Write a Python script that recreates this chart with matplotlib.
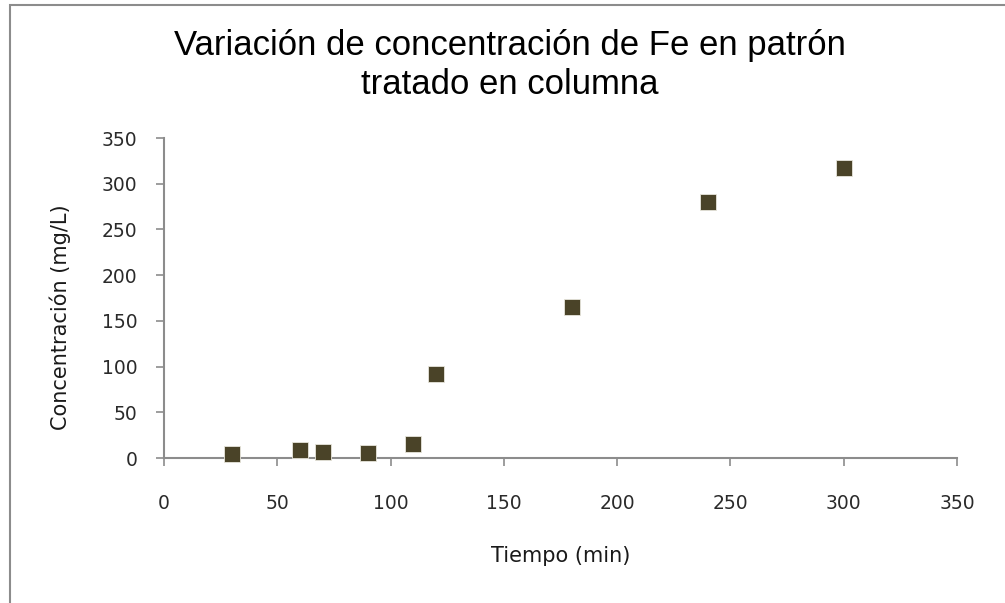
import matplotlib
matplotlib.use("Agg")
import matplotlib.pyplot as plt
from matplotlib.patches import Rectangle

plt.rcParams['font.family'] = ['DejaVu Sans']

# Fe concentration over time in the column-treated standard
tiempo = [30, 60, 70, 90, 110, 120, 180, 240, 300]
concentracion = [4, 9, 6.5, 5, 15, 92, 165, 280, 317]

ticks = [0, 50, 100, 150, 200, 250, 300, 350]

fig = plt.figure(figsize=(10.05, 6.03), dpi=100)

# outer chart border
fig.patches.append(Rectangle((10 / 1005, -0.1), 1.2, (603 - 5) / 603 + 0.1,
                             transform=fig.transFigure, fill=False,
                             edgecolor='#8c8c8c', linewidth=1.5))

ax = fig.add_axes([164 / 1005, 145 / 603, (957 - 164) / 1005, (458 - 138) / 603])

ax.scatter(tiempo, concentracion, marker='s', s=118, color='#4a4328',
           edgecolors='#e8e6dc', linewidths=0.6, zorder=3, clip_on=False)

ax.set_xlim(0, 350)
ax.set_ylim(0, 350)
ax.set_xticks(ticks)
ax.set_yticks(ticks)

for side in ['top', 'right']:
    ax.spines[side].set_visible(False)
for side in ['left', 'bottom']:
    ax.spines[side].set_color('#8c8c8c')
    ax.spines[side].set_linewidth(1.5)

ax.tick_params(axis='x', direction='out', length=6, width=1.2, color='#8c8c8c',
               pad=20, labelsize=13.5, labelcolor='#2a2a2a')
ax.tick_params(axis='y', direction='out', length=6, width=1.2, color='#8c8c8c',
               pad=13, labelsize=13.5, labelcolor='#2a2a2a')

ax.set_xlabel('Tiempo (min)', fontsize=15, labelpad=24, color='#1a1a1a')
ax.set_ylabel('Concentración (mg/L)', fontsize=15, color='#1a1a1a')
ax.yaxis.set_label_coords(-0.117, 0.44)

fig.text(0.507, 1 - 65 / 603, 'Variación de concentración de Fe en patrón\ntratado en columna',
         ha='center', va='center', fontsize=25, linespacing=1.2,
         family=['Liberation Sans', 'DejaVu Sans'])

fig.savefig('out.png', dpi=100)
